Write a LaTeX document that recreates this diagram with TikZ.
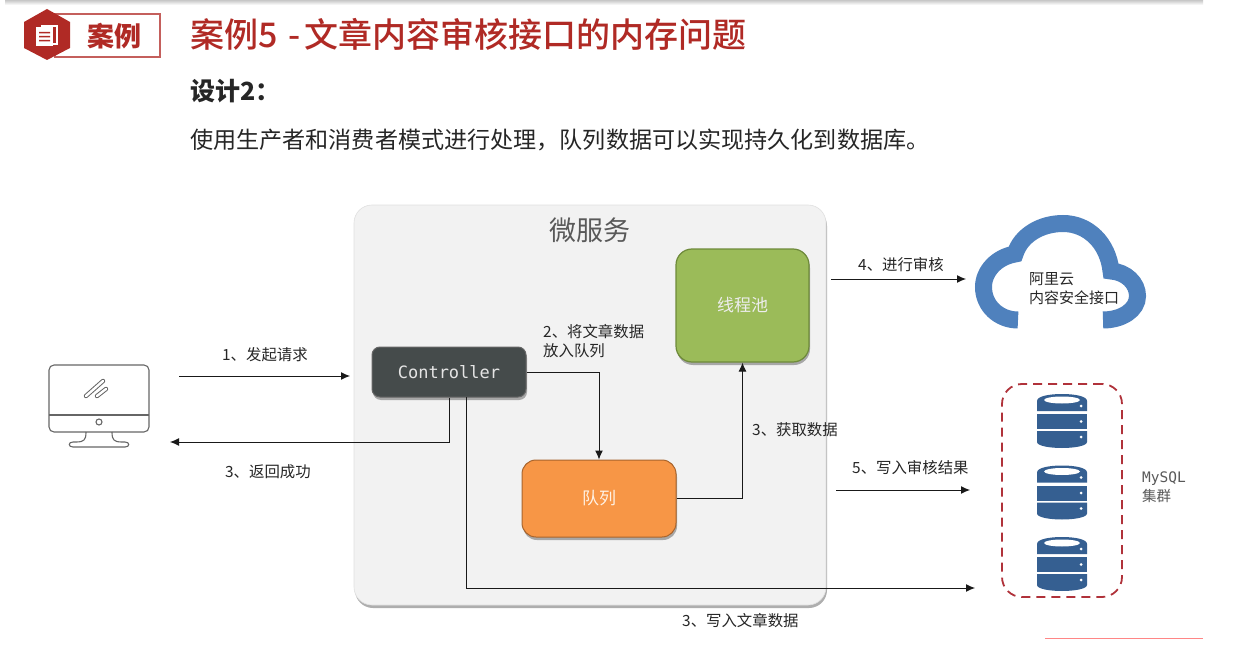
\documentclass[tikz,border=0pt]{standalone}
\usepackage{fontspec}
\setmainfont{Noto Sans CJK SC}
\newfontfamily\monof{DejaVu Sans Mono}
\newfontfamily\medf{Noto Sans CJK SC Medium}
\usetikzlibrary{arrows.meta,shadows,calc}
\definecolor{redt}{HTML}{B02A25}
\definecolor{dashr}{HTML}{B0323A}
\definecolor{dbblue}{HTML}{355F91}
\definecolor{cloudb}{HTML}{4F81BD}
\definecolor{ctrlf}{HTML}{454B4B}
\definecolor{queuef}{HTML}{F79646}
\definecolor{queued}{HTML}{A8642C}
\definecolor{poolf}{HTML}{9BBB59}
\definecolor{poold}{HTML}{6E8A3A}
\newcommand{\fsz}[1]{\fontsize{#1}{19}\selectfont}
\tikzset{
 x=1pt,y=-1pt,
 lab/.style={anchor=west,inner sep=0,font=\fsz{15.4},text=black!85,align=left},
 conn/.style={draw=black!90,line width=1pt,-{Latex[length=9pt,width=8pt]}},
 plainbox/.style={rounded corners=#1,inner sep=0},
 softshadow/.style={drop shadow={shadow xshift=1pt,shadow yshift=-3pt,opacity=.45,fill=black!70}},
 moni/.style={draw=black!60,line width=1.1pt},
 dbicon/.pic={
  \fill[dbblue] (-25,17) -- (-25,7) .. controls (-25,2) and (-12,0) .. (0,0) .. controls (12,0) and (25,2) .. (25,7) -- (25,17) -- cycle;
  \fill[dbblue] (-25,20) rectangle (25,35);
  \fill[dbblue] (-25,37) -- (25,37) -- (25,48) .. controls (25,52) and (12,54) .. (0,54) .. controls (-12,54) and (-25,52) .. (-25,48) -- cycle;
  \fill[white] (0,6) ellipse [x radius=18,y radius=3.5];
  \fill[white] (19,12) circle (1.5) (19,27.5) circle (1.5) (19,43) circle (1.5);
 },
}
\begin{document}
\begin{tikzpicture}
\useasboundingbox[fill=white] (0,0) rectangle (1251,658);
% header band and footer line
\shade[top color=black!22,bottom color=white] (5,0) rectangle (1203,5);
\draw[draw=red!30!pink,line width=.8pt] (1045,638) -- (1203,638);
% badge
\draw[draw=redt!75,line width=1.2pt,fill=white] (55,14) rectangle (160,57);
\fill[redt] (47,9) -- (70,22) -- (70,48) -- (47,60) -- (24,48) -- (24,22) -- cycle;
\fill[white] (41,25) rectangle (58,45);
\fill[redt] (43,27) rectangle (56,43);
\fill[white] (36,27) rectangle (53,46);
\fill[redt] (39,32) rectangle (50,33.5) (39,36) rectangle (50,37.5) (39,40) rectangle (50,41.5);
\node[inner sep=0,text=redt,font=\fsz{27}\bfseries] (badge) at (114,36) {案例};
\node[anchor=west,inner sep=0,text=redt,font=\medf\fsz{34}] (title) at (190,34) {案例5\kern3pt{} -\kern4pt{}文章内容审核接口的内存问题};
\node[anchor=west,inner sep=0,text=black!85,font=\fsz{25}\bfseries] (sub) at (190,91) {设计2：};
\node[anchor=west,inner sep=0,text=black!85,font=\fsz{23.1}] (desc) at (190,140) {使用生产者和消费者模式进行处理，队列数据可以实现持久化到数据库。};
% microservice
\node[plainbox=18pt,fill=black!5,draw=black!12,line width=.6pt,softshadow,minimum width=472pt,minimum height=400pt] (svc) at (590,405) {};
\node[inner sep=0,text=black!65,font=\fsz{27}] (svct) at (590,230) {微服务};
\node[plainbox=8pt,fill=ctrlf,draw=black!60,line width=1pt,softshadow,minimum width=154pt,minimum height=50pt,text=black!10,font=\monof\fsz{17}] (ctrl) at (449,372) {Controller};
\node[plainbox=14pt,fill=queuef,draw=queued,line width=1pt,softshadow,minimum width=154pt,minimum height=77pt,text=white!90!orange,font=\fsz{17}] (queue) at (599,498.5) {队列};
\node[plainbox=16pt,draw=poold,line width=1.2pt,fill=poolf,softshadow,minimum width=133pt,minimum height=113pt,text=white!93!black,font=\fsz{17}] (pool) at (742.5,305.5) {线程池};
% monitor
\draw[moni,rounded corners=5pt] (49,365) rectangle (149,432);
\draw[moni] (49,415) -- (149,415);
\draw[moni] (99,422) circle (3);
\draw[moni] (86,432) .. controls (86,440) and (84,442) .. (76,442) -- (73,442) .. controls (68,442) and (68,447) .. (73,447) -- (125,447) .. controls (130,447) and (130,442) .. (125,442) -- (122,442) .. controls (114,442) and (112,440) .. (112,432);
\draw[black!60,line width=4.4pt,line cap=round] (86,396) -- (103,381) (97,396) -- (106,389);
\draw[white,line width=2.4pt,line cap=round] (86,396) -- (103,381) (97,396) -- (106,389);
% cloud
\draw[cloudb,line width=17pt] (1018,320) .. controls (999,320) and (983.5,306) .. (983.5,287) .. controls (983.5,271) and (997,257) .. (1015,254) .. controls (1021,235) and (1041,223.5) .. (1063,223.5) .. controls (1088,223.5) and (1108,243) .. (1111,271) .. controls (1126,272) and (1137.5,283) .. (1137.5,296) .. controls (1137.5,310) and (1122,320) .. (1103,320);
\node[lab,font=\fsz{15}] (cloudt) at (1029,289) {阿里云\\内容安全接口};
% database
\node[draw=dashr,dashed,dash pattern=on 9pt off 6pt,line width=1.8pt,plainbox=20pt,minimum width=120pt,minimum height=213pt] (cluster) at (1062,490.5) {};
\pic at (1062,394) {dbicon};
\pic at (1062,465.5) {dbicon};
\pic at (1062,537) {dbicon};
\node[lab,text=black!65,font=\fsz{14.5}] (mysql) at (1142,487) {{\monof MySQL}\\集群};
% free ends
\coordinate (a1) at (179,376);
\coordinate (a1e) at (350,376);
\coordinate (a2e) at (170,442);
\coordinate (a3s) at (466,397);
\coordinate (a3e) at (975,588);
\coordinate (a4s) at (831,279);
\coordinate (a4e) at (966,279);
\coordinate (a5s) at (836,490);
\coordinate (a5e) at (970,490);
% connectors
\draw[conn] (a1) -- (a1e);
\draw[conn] (ctrl.south) |- (a2e);
\draw[conn] (a3s) |- (a3e);
\draw[conn] (ctrl.east) -| (queue.north);
\draw[conn] (queue.east) -| (pool.south);
\draw[conn] (a4s) -- (a4e);
\draw[conn] (a5s) -- (a5e);
% labels
\node[lab] (l1) at (222,355) {1、发起请求};
\node[lab] (l2) at (543,341.5) {2、将文章数据\\放入队列};
\node[lab] (l3) at (225,472) {3、返回成功};
\node[lab] (l4) at (752,430) {3、获取数据};
\node[lab] (l5) at (858,265) {4、进行审核};
\node[lab] (l6) at (852,468) {5、写入审核结果};
\node[lab] (l7) at (682,621) {3、写入文章数据};
\end{tikzpicture}
\end{document}
